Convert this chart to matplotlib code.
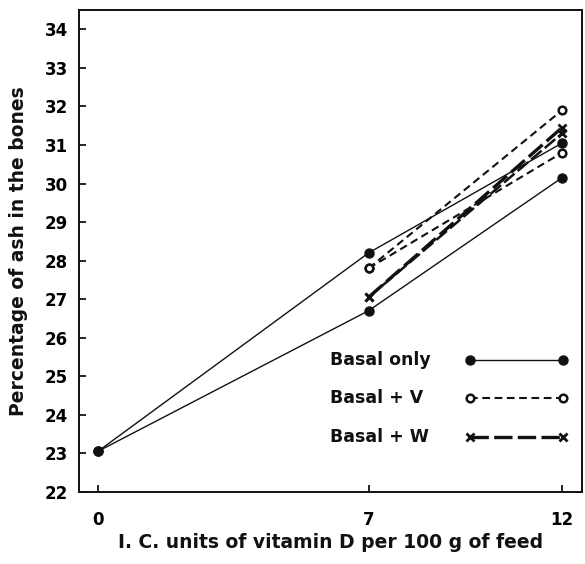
import matplotlib
matplotlib.use('Agg')
import matplotlib.pyplot as plt

plt.rcParams['font.family'] = 'DejaVu Sans'
plt.rcParams['font.weight'] = 'bold'

# vitamin D dose (I.C. units per 100 g feed)
dose = [0, 7, 12]
dose_supp = [7, 12]

# percentage of ash in the bones
basal_a = [23.05, 28.2, 31.05]
basal_b = [23.05, 26.7, 30.15]
v_a = [27.8, 31.9]
v_b = [27.8, 30.8]
w_a = [27.05, 31.45]
w_b = [27.05, 31.3]

yticks = list(range(22, 35))
xticks = [0, 7, 12]
legend_labels = ['Basal only', 'Basal + V', 'Basal + W']

ink = '#111111'

fig = plt.figure(figsize=(5.85, 5.64), dpi=100)
ax = fig.add_axes([0.135, 0.128, 0.860, 0.854])

# basal only
l_basal, = ax.plot(dose, basal_a, color=ink, lw=1.0, marker='o', ms=6.5,
                   mfc=ink, mec=ink)
ax.plot(dose, basal_b, color=ink, lw=1.0, marker='o', ms=6.5, mfc=ink, mec=ink)

# basal + V
l_v, = ax.plot(dose_supp, v_a, color=ink, lw=1.5, dashes=(3.7, 2.2),
               marker='o', ms=5.5, mfc='white', mec=ink, mew=1.8)
ax.plot(dose_supp, v_b, color=ink, lw=1.5, dashes=(3.7, 2.2),
        marker='o', ms=5.5, mfc='white', mec=ink, mew=1.8)

# basal + W
l_w, = ax.plot(dose_supp, w_a, color=ink, lw=2.4, dashes=(5.5, 1.6),
               marker='x', ms=6, mec=ink, mew=2)
ax.plot(dose_supp, w_b, color=ink, lw=1.8, dashes=(5.5, 1.6),
        marker='x', ms=6, mec=ink, mew=2)

ax.set_xlim(-0.49, 12.52)
ax.set_ylim(22, 34.5)
ax.set_xticks(xticks)
ax.set_xticklabels([str(v) for v in xticks])
ax.set_yticks(yticks)
ax.set_yticklabels([str(v) for v in yticks])

ax.tick_params(axis='y', direction='in', length=5, width=1.2, pad=8,
               labelsize=12)
ax.tick_params(axis='x', direction='in', length=5, width=1.2, pad=14,
               labelsize=12)
for lab in ax.get_xticklabels() + ax.get_yticklabels():
    lab.set_fontweight('bold')

for sp in ax.spines.values():
    sp.set_linewidth(1.4)
    sp.set_color(ink)

ax.set_xlabel('I. C. units of vitamin D per 100 g of feed', fontsize=13.5,
              fontweight='bold', labelpad=3, color=ink)
ax.set_ylabel('Percentage of ash in the bones', fontsize=13.5,
              fontweight='bold', labelpad=12, color=ink)

# legend keys only; the labels go on the left, left-aligned
leg = ax.legend([l_basal, l_v, l_w], ['', '', ''],
                loc='center left', bbox_to_anchor=(0.769, 0.193),
                borderaxespad=0, borderpad=0, frameon=False,
                numpoints=2, handlelength=6.98, handletextpad=0,
                labelspacing=1.6, prop={'size': 10.5, 'weight': 'bold'})

fig.canvas.draw()
renderer = fig.canvas.get_renderer()
for key, text in zip(leg.get_lines(), legend_labels):
    bb = key.get_window_extent(renderer)
    y_ax = ax.transAxes.inverted().transform((0, (bb.y0 + bb.y1) / 2))[1]
    ax.text(0.499, y_ax, text, transform=ax.transAxes, ha='left',
            va='center', fontsize=12.5, fontweight='bold', color=ink)

fig.savefig('out.png', dpi=100, facecolor='white')
